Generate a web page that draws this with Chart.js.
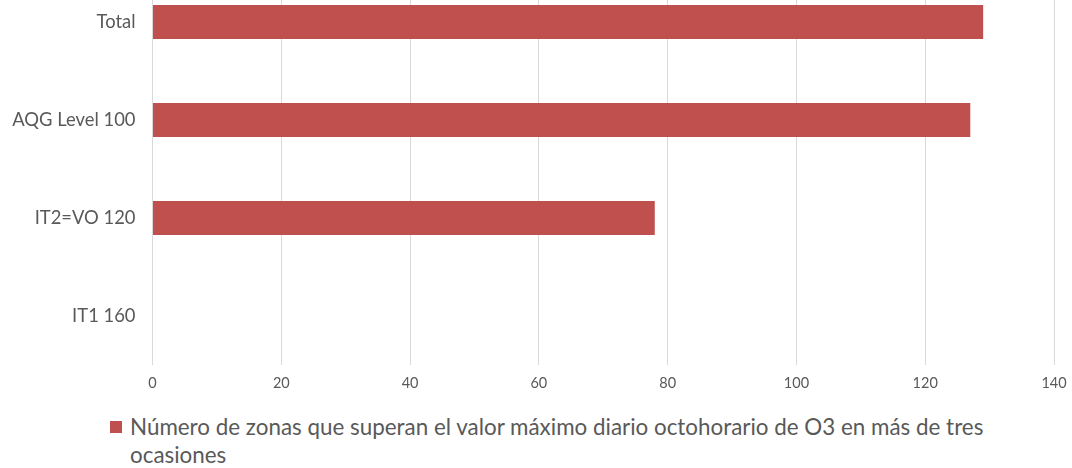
<!DOCTYPE html>
<html>
<head>
<meta charset="utf-8">
<script src="https://cdn.jsdelivr.net/npm/chart.js@4.4.1/dist/chart.umd.min.js"></script>
<style>
  html, body { margin: 0; padding: 0; background: #fff; overflow: hidden; width: 1072px; height: 468px; }
  #wrap { position: relative; width: 1072px; height: 468px; }
  #chart { position: absolute; left: 0; top: -27px; }
  #legend { position: absolute; left: 110px; top: 413px; font-family: Lato, sans-serif; font-size: 22.4px; color: #595959; line-height: 28px; }
  #legend .box { position: absolute; left: 0; top: 8px; width: 12px; height: 12px; }
  #legend .txt { margin-left: 20px; width: 890px; }
</style>
</head>
<body>
<div id="wrap">
  <canvas id="chart" width="1072" height="440"></canvas>
  <div id="legend"></div>
</div>
<script>
const categories = ["Total", "AQG Level 100", "IT2=VO 120", "IT1 160"];
const zonas = [129, 127, 78, 0];
const seriesLabel = "Número de zonas que superan el valor máximo diario octohorario de O3 en más de tres ocasiones";
const xTicks = [0, 20, 40, 60, 80, 100, 120, 140];

const barColor = "#C0504D";
const textColor = "#595959";

const ctx = document.getElementById("chart");

const chart = new Chart(ctx, {
  type: "bar",
  data: {
    labels: categories,
    datasets: [
      {
        label: seriesLabel,
        data: zonas,
        backgroundColor: barColor,
        borderWidth: 0,
        categoryPercentage: 1,
        barPercentage: 0.347,
      },
    ],
  },
  options: {
    indexAxis: "y",
    responsive: false,
    animation: false,
    layout: { padding: { top: 0, right: 18, bottom: 0, left: 0 } },
    plugins: {
      legend: { display: false },
      tooltip: { enabled: false },
    },
    scales: {
      x: {
        min: 0,
        max: 140,
        afterBuildTicks: (axis) => {
          axis.ticks = xTicks.map((v) => ({ value: v }));
        },
        afterFit: (axis) => {
          axis.height = 48;
          axis.paddingLeft = 0;
          axis.paddingRight = 0;
        },
        grid: { color: "#d9d9d9", drawTicks: false },
        border: { display: false },
        ticks: {
          padding: 10,
          color: textColor,
          font: { family: "Lato", size: 14.5 },
        },
      },
      y: {
        afterFit: (axis) => {
          axis.width = 152.5;
          axis.paddingTop = 0;
          axis.paddingBottom = 0;
        },
        grid: { display: false, drawTicks: false },
        border: { display: false },
        ticks: {
          padding: 17,
          color: textColor,
          font: { family: "Lato", size: 18.4 },
        },
      },
    },
  },
});

// legend below the chart, built from the dataset (wraps like the original)
const legend = document.getElementById("legend");
chart.data.datasets.forEach((ds) => {
  legend.innerHTML =
    '<span class="box" style="background:' + ds.backgroundColor + '"></span>' +
    '<div class="txt">' + ds.label + "</div>";
});
</script>
</body>
</html>
